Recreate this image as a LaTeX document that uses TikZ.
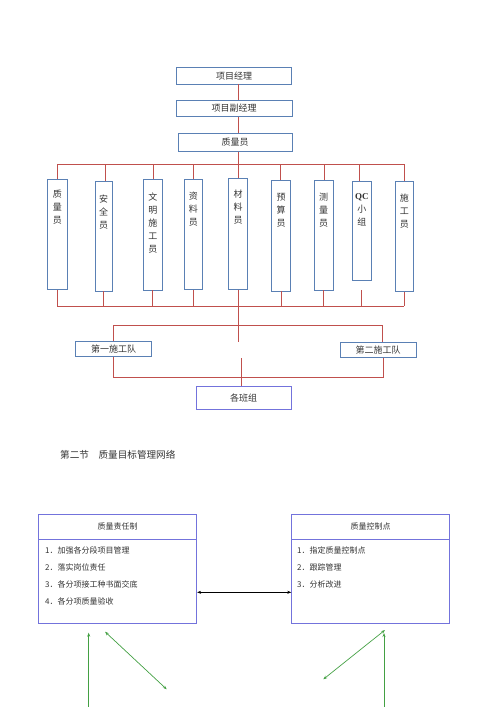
\documentclass[tikz,border=0pt]{standalone}
\usepackage{fontspec}
\setmainfont{Liberation Serif}
\newfontfamily\cjk{Noto Sans CJK SC}
\usetikzlibrary{arrows.meta,calc}
\definecolor{lred}{HTML}{C0504D}
\definecolor{bblue}{HTML}{5A80B4}
\definecolor{pblue}{HTML}{7373DC}
\definecolor{gr}{HTML}{43A043}
\definecolor{tx}{HTML}{333333}
\begin{document}
\begin{tikzpicture}[x=1pt,y=-1pt,
  box/.style={draw=bblue, line width=0.8pt, fill=white, inner sep=0pt, text=tx,
    font=\cjk\fontsize{9}{11}\selectfont},
  vbox/.style={draw=bblue, line width=0.8pt, fill=white, inner sep=0pt},
  vtext/.style={inner sep=0pt, text=tx, align=center, font=\cjk\fontsize{9}{13}\selectfont},
  link/.style={draw=lred, line width=0.7pt},
  pbox/.style={draw=pblue, line width=0.8pt, inner sep=0pt, text=tx,
    font=\cjk\fontsize{8}{10}\selectfont},
  item/.style={inner sep=0pt, anchor=west, text=tx, font=\cjk\fontsize{8}{10}\selectfont},
  garrow/.style={draw=gr, line width=0.7pt, -{Stealth[length=4pt,width=3pt]}},
  gdarrow/.style={draw=gr, line width=0.7pt, {Stealth[length=4pt,width=3pt]}-{Stealth[length=4pt,width=3pt]}},
]
\useasboundingbox (0,0) rectangle (500,707);

% top boxes
\node[box, minimum width=115pt, minimum height=16.7pt] (pm) at (234,75.7) {项目经理};
\node[box, minimum width=116pt, minimum height=16.7pt] (dpm) at (234,108.3) {项目副经理};
\node[box, minimum width=114pt, minimum height=18pt] (qm) at (235,142.5) {质量员};

% vertical boxes
\node[vbox, minimum width=20pt, minimum height=110.3pt] (b1) at (57.3,234.2) {};
\node[vbox, minimum width=17.3pt, minimum height=109.3pt] (b2) at (103.7,236.3) {};
\node[vbox, minimum width=19pt, minimum height=110.7pt] (b3) at (152.8,234.7) {};
\node[vbox, minimum width=18.7pt, minimum height=110.3pt] (b4) at (193.3,234.2) {};
\node[vbox, minimum width=18.6pt, minimum height=111pt] (b5) at (238,233.8) {};
\node[vbox, minimum width=19.4pt, minimum height=110.3pt] (b6) at (281,235.8) {};
\node[vbox, minimum width=19.3pt, minimum height=109.3pt] (b7) at (323.7,235.3) {};
\node[vbox, minimum width=19.7pt, minimum height=98.3pt] (b8) at (361.8,230.8) {};
\node[vbox, minimum width=18pt, minimum height=110pt] (b9) at (404.3,236.7) {};

\node[vtext, anchor=north] (t1) at ([yshift=-11pt]b1.north) {质\\量\\员};
\node[vtext, anchor=north] (t2) at ([yshift=-13pt]b2.north) {安\\全\\员};
\node[vtext, anchor=north] (t3) at ([yshift=-14pt]b3.north) {文\\明\\施\\工\\员};
\node[vtext, anchor=north] (t4) at ([yshift=-13pt]b4.north) {资\\料\\员};
\node[vtext, anchor=north] (t5) at ([yshift=-12pt]b5.north) {材\\料\\员};
\node[vtext, anchor=north] (t6) at ([yshift=-13pt]b6.north) {预\\算\\员};
\node[vtext, anchor=north] (t7) at ([yshift=-13pt]b7.north) {测\\量\\员};
\node[vtext, anchor=north] (t8) at ([yshift=-12pt]b8.north) {\textbf{\rmfamily QC}\\小\\组};
\node[vtext, anchor=north] (t9) at ([yshift=-12pt]b9.north) {施\\工\\员};

% bus coordinates
\coordinate (busT) at (0,164);
\coordinate (busB) at (0,306);
\coordinate (qcs) at (361.8,290);

% top connectors
\draw[link] (pm.south -| b5.north) -- (dpm.north -| b5.north);
\draw[link] (dpm.south -| b5.north) -- (qm.north -| b5.north);
\draw[link] (qm.south -| b5.north) -- (b5.north);
\draw[link] (b1.north |- busT) -- (b9.north |- busT);
\foreach \b/\xx in {b1/57.3,b2/105,b3/153.3,b4/193.3,b6/280.7,b7/324,b8/359.3,b9/404.3}
  \draw[link] (\xx,164) -- (\xx,0 |- \b.north);

% bottom connectors
\draw[link] (b1.south |- busB) -- (b9.south |- busB);
\foreach \b in {b1,b2,b3,b4,b6,b7,b9}
  \draw[link] (\b.south) -- (\b.south |- busB);
\draw[link] (qcs) -- (qcs |- busB);

% teams
\node[box, minimum width=76pt, minimum height=14.5pt] (tm1) at (113.7,349) {第一施工队};
\node[box, minimum width=76pt, minimum height=15.5pt] (tm2) at (378,350) {第二施工队};
\node[draw=pblue, line width=0.8pt, inner sep=0pt, text=tx, font=\cjk\fontsize{9}{11}\selectfont,
  minimum width=95pt, minimum height=22.3pt] (bz) at (243.5,397.9) {各班组};

\coordinate (cdrop) at (239.3,341.7);
\draw[link] (b5.south) -- (b5.south |- cdrop);
\coordinate (c1) at (113.3,325);
\coordinate (c2) at (382.3,325);
\draw[link] (c1 |- tm1.north) -- (c1) -- (c2) -- (c2 |- tm2.north);
\coordinate (d1) at (113,377.3);
\coordinate (d2) at (383.3,377.3);
\draw[link] (d1 |- tm1.south) -- (d1) -- (d2) -- (d2 |- tm2.south);
\coordinate (cup) at (241,358.3);
\draw[link] (cup) -- (cup |- bz.north);

% heading
\node[inner sep=0pt, anchor=west, text=tx, font=\cjk\fontsize{9.6}{11}\selectfont] (hd) at (60,455) {第二节\hspace{1em}质量目标管理网络};

% lower boxes
\node[pbox, minimum width=158.4pt, minimum height=25pt] (Lh) at (117.5,526.8) {质量责任制};
\node[pbox, minimum width=158.4pt, minimum height=84pt] (Lb) at (117.5,581.3) {};
\node[pbox, minimum width=157.6pt, minimum height=25pt] (Rh) at (370.5,526.8) {质量控制点};
\node[pbox, minimum width=157.6pt, minimum height=84pt] (Rb) at (370.5,581.3) {};

\node[item] (l1) at (45,550) {1．加强各分段项目管理};
\node[item] (l2) at (45,567.3) {2．落实岗位责任};
\node[item] (l3) at (45,584.5) {3．各分项接工种书面交底};
\node[item] (l4) at (45,601.7) {4．各分项质量验收};
\node[item] (r1) at (297,550) {1．指定质量控制点};
\node[item] (r2) at (297,567.3) {2．跟踪管理};
\node[item] (r3) at (297,584.5) {3．分析改进};

\coordinate (arr) at (0,592.3);
\draw[line width=0.7pt, {Stealth[length=4pt,width=3pt]}-{Stealth[length=4pt,width=3pt]}] (Lb.east |- arr) -- (Rb.west |- arr);

% green arrows
\coordinate (g1a) at (88.7,707);
\coordinate (g1b) at (88.7,632.7);
\draw[garrow] (g1a) -- (g1b);
\coordinate (g2a) at (105,631.7);
\coordinate (g2b) at (166.7,689.3);
\draw[gdarrow] (g2a) -- (g2b);
\coordinate (g3a) at (323.3,679.3);
\coordinate (g3b) at (385,630);
\draw[gdarrow] (g3a) -- (g3b);
\coordinate (g4a) at (384,707);
\coordinate (g4b) at (384,633);
\draw[garrow] (g4a) -- (g4b);
\end{tikzpicture}
\end{document}
